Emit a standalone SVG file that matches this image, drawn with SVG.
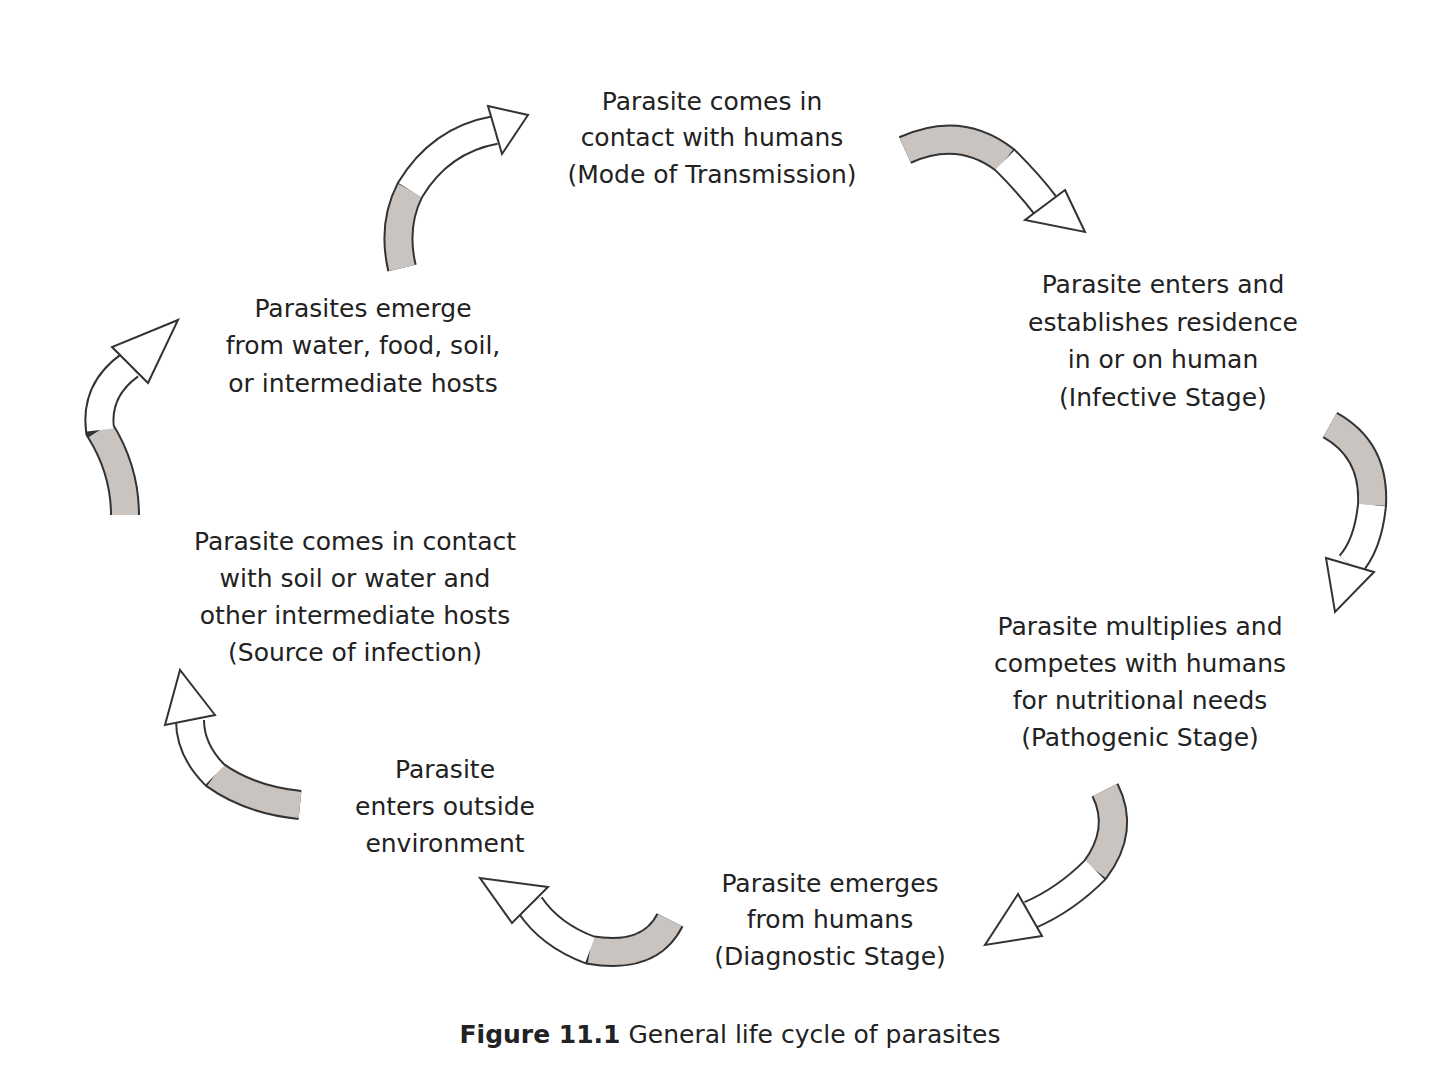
<svg xmlns="http://www.w3.org/2000/svg" width="1440" height="1088" viewBox="0 0 1440 1088">
<style>
text{font-family:"DejaVu Sans","Liberation Sans",sans-serif;font-size:25px;fill:#222;text-anchor:middle}
.o{fill:none;stroke:#333;stroke-width:30}
.g{fill:none;stroke:#c9c4c0;stroke-width:26}
.w{fill:none;stroke:#fff;stroke-width:26}
.h{fill:#fff;stroke:#333;stroke-width:2;stroke-linejoin:miter}
</style>
<rect width="1440" height="1088" fill="#fff"/>
<g id="connectors">
<g id="a1"><path class="o" d="M402,268 Q392,225 410,190 Q440,140 495,130"/><path class="g" d="M402,268 Q392,225 410,190"/><path class="w" d="M410,190 Q440,140 495,130"/><polygon class="h" points="488,106 528,115 502,154"/></g>
<g id="a2"><path class="o" d="M905,150 Q960,125 1005,160 Q1030,185 1045,205"/><path class="g" d="M905,150 Q960,125 1005,160"/><path class="w" d="M1005,160 Q1030,185 1045,205"/><polygon class="h" points="1065,190 1085,232 1025,220"/></g>
<g id="a3"><path class="o" d="M1330,425 Q1375,450 1372,505 Q1368,545 1350,565"/><path class="g" d="M1330,425 Q1375,450 1372,505"/><path class="w" d="M1372,505 Q1368,545 1350,565"/><polygon class="h" points="1374,572 1335,612 1326,558"/></g>
<g id="a4"><path class="o" d="M1105,790 Q1125,830 1095,870 Q1065,900 1030,915"/><path class="g" d="M1105,790 Q1125,830 1095,870"/><path class="w" d="M1095,870 Q1065,900 1030,915"/><polygon class="h" points="1042,936 985,945 1018,894"/></g>
<g id="a5"><path class="o" d="M670,920 Q650,960 590,950 Q550,935 530,905"/><path class="g" d="M670,920 Q650,960 590,950"/><path class="w" d="M590,950 Q550,935 530,905"/><polygon class="h" points="548,887 480,878 512,923"/></g>
<g id="a6"><path class="o" d="M300,805 Q250,800 215,775 Q190,750 190,720"/><path class="g" d="M300,805 Q250,800 215,775"/><path class="w" d="M215,775 Q190,750 190,720"/><polygon class="h" points="215,715 180,670 165,725"/></g>
<g id="a7"><path class="o" d="M125,515 Q125,470 100,430 Q95,390 130,365"/><path class="g" d="M125,515 Q125,470 100,430"/><path class="w" d="M100,430 Q95,390 130,365"/><polygon class="h" points="148,383 178,320 112,347"/></g>
</g>
<g id="n1"><text x="712" y="110">Parasite comes in</text><text x="712" y="146">contact with humans</text><text x="712" y="183">(Mode of Transmission)</text></g>
<g id="n2"><text x="1163" y="293">Parasite enters and</text><text x="1163" y="331">establishes residence</text><text x="1163" y="368">in or on human</text><text x="1163" y="406">(Infective Stage)</text></g>
<g id="n3"><text x="1140" y="635">Parasite multiplies and</text><text x="1140" y="672">competes with humans</text><text x="1140" y="709">for nutritional needs</text><text x="1140" y="746">(Pathogenic Stage)</text></g>
<g id="n4"><text x="830" y="892">Parasite emerges</text><text x="830" y="928">from humans</text><text x="830" y="965">(Diagnostic Stage)</text></g>
<g id="n5"><text x="445" y="778">Parasite</text><text x="445" y="815">enters outside</text><text x="445" y="852">environment</text></g>
<g id="n6"><text x="355" y="550">Parasite comes in contact</text><text x="355" y="587">with soil or water and</text><text x="355" y="624">other intermediate hosts</text><text x="355" y="661">(Source of infection)</text></g>
<g id="n7"><text x="363" y="317">Parasites emerge</text><text x="363" y="354">from water, food, soil,</text><text x="363" y="392">or intermediate hosts</text></g>
<text x="730" y="1043"><tspan font-weight="bold">Figure 11.1</tspan> General life cycle of parasites</text>
</svg>
